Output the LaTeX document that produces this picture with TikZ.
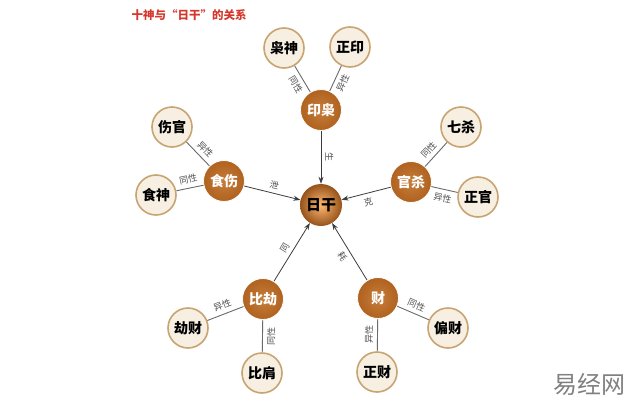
\documentclass[tikz,border=0pt]{standalone}
\usepackage{fontspec}
\newfontfamily\cjk{Noto Sans CJK SC}
\usetikzlibrary{arrows.meta}
\definecolor{hubbrown}{HTML}{B0621F}
\definecolor{hublight}{HTML}{C77D3A}
\definecolor{leaffill}{HTML}{F6EFE2}
\definecolor{leafrim}{HTML}{C8A471}
\definecolor{tiegray}{HTML}{6A6A6A}
\definecolor{feedgray}{HTML}{3C3C3C}
\definecolor{lblgray}{HTML}{505050}
\definecolor{titlered}{HTML}{D4372C}
\tikzset{
  hub/.style={circle, draw=white, line width=0.8pt, inner color=hublight, outer color=hubbrown,
    minimum size=41pt, inner sep=0pt, text=white, font=\cjk\bfseries\fontsize{14}{14}\selectfont},
  core/.style={circle, inner color=orange!55!white, outer color=hubbrown!85!black,
    minimum size=42pt, inner sep=0pt, text=black, font=\cjk\bfseries\fontsize{15}{15}\selectfont},
  leaf/.style={circle, draw=leafrim, line width=1.6pt, fill=leaffill,
    minimum size=40pt, inner sep=0pt, text=black, font=\cjk\bfseries\fontsize{14}{14}\selectfont},
  tie/.style={draw=tiegray, line width=0.9pt},
  feed/.style={draw=feedgray, line width=0.8pt, -{Stealth[length=7pt,width=5pt]}},
  lbl/.style={font=\cjk\fontsize{9}{9}\selectfont, text=lblgray, sloped, inner sep=4pt}
}
\begin{document}
\begin{tikzpicture}[x=1pt,y=-1pt]
        \useasboundingbox (0,0) rectangle (640,407);
        \node[font=\cjk\bfseries\fontsize{11.5}{11.5}\selectfont, text=titlered] (title) at (189,15) {十神与“日干”的关系};

        \node[core] (rigan) at (321,205) {日干};

        \node[hub] (yinxiao) at (321,110) {印枭};
        \node[leaf] (xiaoshen) at (284,48) {枭神};
        \node[leaf] (zhengyin) at (350,47) {正印};

        \node[hub] (shishang) at (224,181) {食伤};
        \node[leaf] (shangguan) at (172,127) {伤官};
        \node[leaf] (shishen) at (156,195) {食神};

        \node[hub] (guansha) at (411,182) {官杀};
        \node[leaf] (qisha) at (461,127) {七杀};
        \node[leaf] (zhengguan) at (478,197) {正官};

        \node[hub] (bijie) at (263,299) {比劫};
        \node[leaf] (jiecai) at (188,328) {劫财};
        \node[leaf] (bijian) at (262,373) {比肩};

        \node[hub] (cai) at (378,298) {财};
        \node[leaf] (piancai) at (448,328) {偏财};
        \node[leaf] (zhengcai) at (377,372) {正财};

        \path[tie] (xiaoshen) -- node[lbl,below,pos=0.55] {同性} (yinxiao);
        \path[tie] (zhengyin) -- node[lbl,below,pos=0.55] {异性} (yinxiao);
        \path[tie] (shangguan) -- node[lbl,above,pos=0.55] {异性} (shishang);
        \path[tie] (shishen) -- node[lbl,above] {同性} (shishang);
        \path[tie] (qisha) -- node[lbl,above,pos=0.55] {同性} (guansha);
        \path[tie] (zhengguan) -- node[lbl,below] {异性} (guansha);
        \path[tie] (jiecai) -- node[lbl,above] {异性} (bijie);
        \path[tie] (bijian) -- node[lbl,below] {同性} (bijie);
        \path[tie] (piancai) -- node[lbl,above] {同性} (cai);
        \path[tie] (zhengcai) -- node[lbl,above] {异性} (cai);

        \path[feed] (yinxiao) -- node[lbl,above] {生} (rigan);
        \path[feed] (shishang) -- node[lbl,above] {泄} (rigan);
        \path[feed] (guansha) -- node[lbl,below] {克} (rigan);
        \path[feed] (bijie) -- node[lbl,above] {同} (rigan);
        \path[feed] (cai) -- node[lbl,below] {耗} (rigan);

        \node[font=\cjk\fontsize{24}{24}\selectfont, text=black!50] (mark) at (589,384) {易经网};
    \end{tikzpicture}
\end{document}
